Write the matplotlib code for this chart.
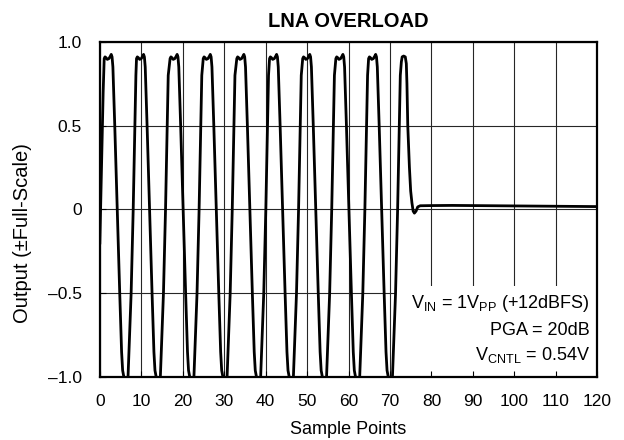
import matplotlib
matplotlib.use("Agg")
import matplotlib.pyplot as plt
from matplotlib.patches import Rectangle

plt.rcParams['font.family'] = ['Liberation Sans', 'DejaVu Sans']
plt.rcParams['mathtext.fontset'] = 'custom'
plt.rcParams['mathtext.rm'] = 'Liberation Sans'
plt.rcParams['mathtext.it'] = 'Liberation Sans'

# ---- data ----
sample_x = [
    0.0, 0.45, 0.8,
    1.05, 1.25, 1.5, 1.8, 2.2, 2.55, 2.75, 2.95, 3.15, 3.35, 3.6, 4.2, 4.8, 5.25, 5.5, 5.8, 6.3, 6.8, 7.55, 8.05, 8.45, 8.7,
    8.85, 9.05, 9.3, 9.6, 10.0, 10.35, 10.55, 10.75, 10.95, 11.15, 11.4, 12.0, 12.6, 13.05, 13.3, 13.6, 14.1, 14.6, 15.35, 15.85, 16.25, 16.5,
    16.95, 17.15, 17.4, 17.7, 18.1, 18.45, 18.65, 18.85, 19.05, 19.25, 19.5, 20.1, 20.7, 21.15, 21.4, 21.7, 22.2, 22.7, 23.45, 23.95, 24.35, 24.6,
    24.95, 25.15, 25.4, 25.7, 26.1, 26.45, 26.65, 26.85, 27.05, 27.25, 27.5, 28.1, 28.7, 29.15, 29.4, 29.7, 30.2, 30.7, 31.45, 31.95, 32.35, 32.6,
    33.05, 33.25, 33.5, 33.8, 34.2, 34.55, 34.75, 34.95, 35.15, 35.35, 35.6, 36.2, 36.8, 37.25, 37.5, 37.8, 38.3, 38.8, 39.55, 40.05, 40.45, 40.7,
    40.95, 41.15, 41.4, 41.7, 42.1, 42.45, 42.65, 42.85, 43.05, 43.25, 43.5, 44.1, 44.7, 45.15, 45.4, 45.7, 46.2, 46.7, 47.45, 47.95, 48.35, 48.6,
    48.95, 49.15, 49.4, 49.7, 50.1, 50.45, 50.65, 50.85, 51.05, 51.25, 51.5, 52.1, 52.7, 53.15, 53.4, 53.7, 54.2, 54.7, 55.45, 55.95, 56.35, 56.6,
    56.95, 57.15, 57.4, 57.7, 58.1, 58.45, 58.65, 58.85, 59.05, 59.25, 59.5, 60.1, 60.7, 61.15, 61.4, 61.7, 62.2, 62.7, 63.45, 63.95, 64.35, 64.6,
    64.85, 65.05, 65.3, 65.6, 66.0, 66.35, 66.55, 66.75, 66.95, 67.15, 67.4, 68.0, 68.6, 69.05, 69.3, 69.6, 70.1, 70.6, 71.35, 71.85, 72.25, 72.5,
    72.75, 72.95, 73.3, 73.7, 73.95, 74.1, 74.3, 74.7, 75.0, 75.3, 75.6, 75.9, 76.3, 76.7, 77.3,
    80.0, 85.0, 90.0, 95.0, 100.0, 105.0, 110.0, 115.0, 120.0,
]
output_y = [
    -0.20, 0.30, 0.70,
    0.90, 0.91, 0.905, 0.895, 0.90, 0.915, 0.925, 0.91, 0.85, 0.70, 0.50, 0.0, -0.5, -0.85, -0.96, -1.0, -1.01, -1.0, -0.5, 0.0, 0.5, 0.8,
    0.90, 0.91, 0.905, 0.895, 0.90, 0.915, 0.925, 0.91, 0.85, 0.70, 0.50, 0.0, -0.5, -0.85, -0.96, -1.0, -1.01, -1.0, -0.5, 0.0, 0.5, 0.8,
    0.90, 0.91, 0.905, 0.895, 0.90, 0.915, 0.925, 0.91, 0.85, 0.70, 0.50, 0.0, -0.5, -0.85, -0.96, -1.0, -1.01, -1.0, -0.5, 0.0, 0.5, 0.8,
    0.90, 0.91, 0.905, 0.895, 0.90, 0.915, 0.925, 0.91, 0.85, 0.70, 0.50, 0.0, -0.5, -0.85, -0.96, -1.0, -1.01, -1.0, -0.5, 0.0, 0.5, 0.8,
    0.90, 0.91, 0.905, 0.895, 0.90, 0.915, 0.925, 0.91, 0.85, 0.70, 0.50, 0.0, -0.5, -0.85, -0.96, -1.0, -1.01, -1.0, -0.5, 0.0, 0.5, 0.8,
    0.90, 0.91, 0.905, 0.895, 0.90, 0.915, 0.925, 0.91, 0.85, 0.70, 0.50, 0.0, -0.5, -0.85, -0.96, -1.0, -1.01, -1.0, -0.5, 0.0, 0.5, 0.8,
    0.90, 0.91, 0.905, 0.895, 0.90, 0.915, 0.925, 0.91, 0.85, 0.70, 0.50, 0.0, -0.5, -0.85, -0.96, -1.0, -1.01, -1.0, -0.5, 0.0, 0.5, 0.8,
    0.90, 0.91, 0.905, 0.895, 0.90, 0.915, 0.925, 0.91, 0.85, 0.70, 0.50, 0.0, -0.5, -0.85, -0.96, -1.0, -1.01, -1.0, -0.5, 0.0, 0.5, 0.8,
    0.90, 0.91, 0.905, 0.895, 0.90, 0.915, 0.925, 0.91, 0.85, 0.70, 0.50, 0.0, -0.5, -0.85, -0.96, -1.0, -1.01, -1.0, -0.5, 0.0, 0.5, 0.8,
    0.88, 0.91, 0.915, 0.91, 0.87, 0.75, 0.50, 0.25, 0.11, 0.04, -0.01, -0.022, -0.01, 0.015, 0.022,
    0.023, 0.024, 0.023, 0.022, 0.021, 0.020, 0.019, 0.018, 0.017,
]
x_ticks = [0, 10, 20, 30, 40, 50, 60, 70, 80, 90, 100, 110, 120]
y_ticks = [-1.0, -0.5, 0.0, 0.5, 1.0]
y_tick_labels = ['\u20131.0', '\u20130.5', '0', '0.5', '1.0']
notes = [r'V$_{\mathregular{IN}}$ = 1V$_{\mathregular{PP}}$ (+12dBFS)',
         'PGA = 20dB',
         r'V$_{\mathregular{CNTL}}$ = 0.54V']

fig = plt.figure(figsize=(6.24, 4.40), dpi=100)
ax = fig.add_axes([0.160, 0.143, 0.797, 0.762])

ax.set_xlim(0, 120)
ax.set_ylim(-1.0, 1.0)

# grid lines (drawn manually so the note box can cover them)
for xv in x_ticks:
    ax.axvline(xv, color='0.15', lw=0.8, zorder=0.5)
for yv in y_ticks:
    ax.axhline(yv, color='0.15', lw=0.8, zorder=0.5)

ax.add_patch(Rectangle((71.4, -1.0), 48.6, 0.545, facecolor='white',
                       edgecolor='none', zorder=1))

ax.plot(sample_x, output_y, color='black', lw=2.0, zorder=3,
        solid_joinstyle='round')

for txt, yy in zip(notes, [-0.56, -0.725, -0.87]):
    ax.text(118.2, yy, txt, ha='right', va='center', fontsize=13, zorder=4)

ax.set_xticks(x_ticks)
ax.set_yticks(y_ticks)
ax.set_yticklabels(y_tick_labels)
ax.tick_params(direction='in', length=4, width=0.8, labelsize=12.5, pad=12,
               top=False, right=False)
ax.tick_params(axis='y', pad=13)

for s in ax.spines.values():
    s.set_linewidth(1.6)
    s.set_zorder(5)

ax.set_xlabel('Sample Points', fontsize=13, labelpad=9)
ax.set_ylabel('Output (\u00b1Full-Scale)', fontsize=14.5)
ax.yaxis.set_label_coords(-0.137, 0.43)
ax.set_title('LNA OVERLOAD', fontsize=14.5, fontweight='bold', pad=11)

fig.savefig('out.png', dpi=100)
